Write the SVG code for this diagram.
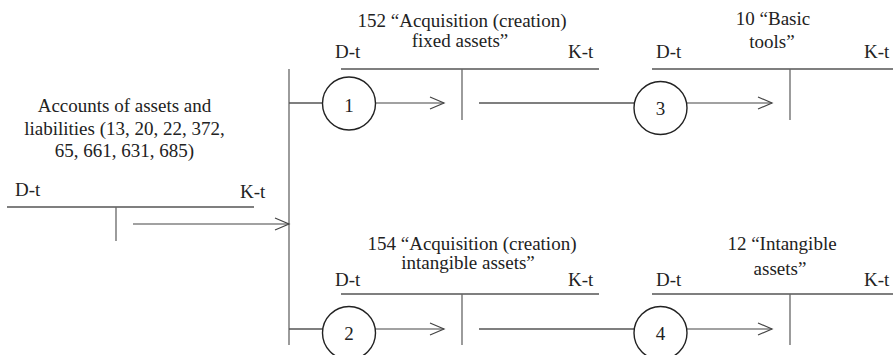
<svg xmlns="http://www.w3.org/2000/svg" width="893" height="355" viewBox="0 0 893 355">
<style>
text{font-family:'Liberation Serif','Times New Roman','DejaVu Serif',serif;font-size:19px;fill:#222}
.c{text-anchor:middle}
.ln{stroke:#555;stroke-width:1.3;fill:none}
.st{stroke:#666;stroke-width:1.3;fill:none}
.cir{stroke:#222;stroke-width:1.4;fill:#fff}
.ar{stroke:#444;stroke-width:1.2;fill:none;marker-end:url(#ah)}
</style>
<defs>
<marker id="ah" markerUnits="userSpaceOnUse" markerWidth="20" markerHeight="16" viewBox="-16 -8 20 16" refX="0" refY="0" orient="auto">
<path d="M-14,-6 L0,0 L-14,6" stroke="#444" stroke-width="1.2" fill="none"/>
</marker>
</defs>
<rect width="893" height="355" fill="#fff"/>

<g id="acc-assets">
<text class="c" x="124.5" y="112">Accounts of assets and</text>
<text class="c" x="124.5" y="134.5">liabilities (13, 20, 22, 372,</text>
<text class="c" x="124.5" y="157">65, 661, 631, 685)</text>
<text x="15" y="196">D-t</text>
<text x="240" y="198">K-t</text>
<line class="ln" x1="7" y1="207" x2="254" y2="207"/>
<line class="st" x1="116" y1="207" x2="116" y2="241"/>
</g>

<g id="acc-152">
<text class="c" x="462" y="27">152 “Acquisition (creation)</text>
<text class="c" x="460" y="47">fixed assets”</text>
<text x="335" y="58">D-t</text>
<text x="568" y="58">K-t</text>
<line class="ln" x1="341" y1="69" x2="599" y2="69"/>
<line class="st" x1="462" y1="69" x2="462" y2="120"/>
</g>

<g id="acc-10">
<text class="c" x="773" y="25">10 “Basic</text>
<text class="c" x="772" y="48">tools”</text>
<text x="656" y="58">D-t</text>
<text x="864" y="58">K-t</text>
<line class="ln" x1="652" y1="69" x2="893" y2="69"/>
<line class="st" x1="790" y1="69" x2="790" y2="120"/>
</g>

<g id="acc-154">
<text class="c" x="472" y="250">154 “Acquisition (creation)</text>
<text class="c" x="468" y="269">intangible assets”</text>
<text x="335" y="286">D-t</text>
<text x="568" y="286">K-t</text>
<line class="ln" x1="341" y1="294" x2="599" y2="294"/>
<line class="st" x1="462" y1="294" x2="462" y2="345"/>
</g>

<g id="acc-12">
<text class="c" x="782" y="250">12 “Intangible</text>
<text class="c" x="780" y="275">assets”</text>
<text x="656" y="286">D-t</text>
<text x="864" y="286">K-t</text>
<line class="ln" x1="652" y1="294" x2="893" y2="294"/>
<line class="st" x1="790" y1="294" x2="790" y2="345"/>
</g>

<g id="connectors">
<line class="st" x1="289" y1="69" x2="289" y2="345"/>
<line class="ar" x1="133" y1="224" x2="289" y2="224"/>
<line class="ln" x1="289" y1="103" x2="323" y2="103"/>
<line class="ar" x1="375" y1="103" x2="444" y2="103"/>
<line class="ln" x1="479" y1="103" x2="634" y2="103"/>
<line class="ar" x1="687" y1="103" x2="772" y2="103"/>
<line class="ln" x1="289" y1="329" x2="323" y2="329"/>
<line class="ar" x1="375" y1="329" x2="444" y2="329"/>
<line class="ln" x1="479" y1="329" x2="634" y2="329"/>
<line class="ar" x1="687" y1="329" x2="772" y2="329"/>
</g>

<g id="op-1">
<circle class="cir" cx="349" cy="103.5" r="26.5"/>
<text class="c" x="349" y="112">1</text>
</g>
<g id="op-3">
<circle class="cir" cx="660.5" cy="108" r="26.5"/>
<text class="c" x="660.5" y="115">3</text>
</g>
<g id="op-2">
<circle class="cir" cx="349" cy="333" r="26.5"/>
<text class="c" x="349" y="340">2</text>
</g>
<g id="op-4">
<circle class="cir" cx="660.5" cy="333" r="26.5"/>
<text class="c" x="660.5" y="340">4</text>
</g>
</svg>
